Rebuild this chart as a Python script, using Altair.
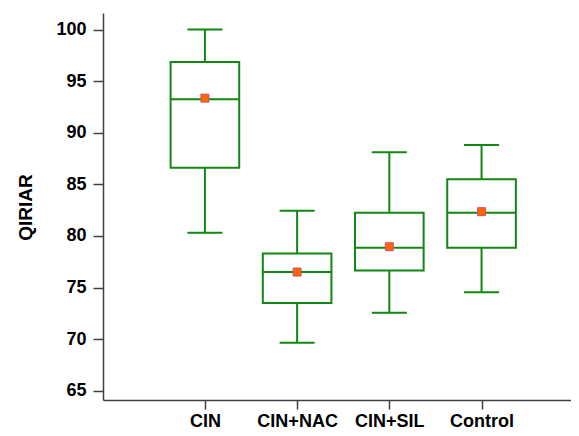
import json
import altair as alt
import pandas as pd

categories = ["CIN", "CIN+NAC", "CIN+SIL", "Control"]
lower = [80.3, 69.65, 72.55, 74.55]
q1 = [86.6, 73.5, 76.65, 78.85]
median = [93.25, 76.5, 78.85, 82.25]
q3 = [96.85, 78.3, 82.25, 85.5]
upper = [100.0, 82.45, 88.1, 88.8]
mean = [93.35, 76.5, 78.95, 82.35]

df = pd.DataFrame({
    "cat": categories,
    "pos": list(range(1, len(categories) + 1)),
    "lower": lower,
    "q1": q1,
    "median": median,
    "q3": q3,
    "upper": upper,
    "mean": mean,
})

GREEN = "#118811"
BOX_HALF = 0.372
CAP_HALF = 0.19

xscale = alt.Scale(domain=[-0.105, 4.97], nice=False, zero=False)
yscale = alt.Scale(domain=[64.1, 101.6], nice=False, zero=False)

label_expr = json.dumps(categories) + "[datum.value - 1]"

xaxis = alt.Axis(values=[1, 2, 3, 4], labelExpr=label_expr, title=None, grid=False,
                 tickSize=9, labelPadding=3, labelFlush=False, labelOverlap=False)
yaxis = alt.Axis(values=[65, 70, 75, 80, 85, 90, 95, 100], title="QIRIAR", grid=False,
                 tickSize=10, labelPadding=7, titleX=-72, titleY=194,
                 titleBaseline="alphabetic", titleAngle=270, titleAlign="center",
                 titleFontSize=19)

base = alt.Chart(df).transform_calculate(
    xl=f"datum.pos - {BOX_HALF}", xr=f"datum.pos + {BOX_HALF}",
    cl=f"datum.pos - {CAP_HALF}", cr=f"datum.pos + {CAP_HALF}",
)

def X(field):
    return alt.X(field, type="quantitative", scale=xscale, axis=xaxis)

def Y(field):
    return alt.Y(field, type="quantitative", scale=yscale, axis=yaxis)

whisk_lo = base.mark_rule(color=GREEN, strokeWidth=2).encode(
    x=X("pos"), y=Y("lower"), y2="q1:Q")
whisk_hi = base.mark_rule(color=GREEN, strokeWidth=2).encode(
    x=X("pos"), y=Y("q3"), y2="upper:Q")
cap_lo = base.mark_rule(color=GREEN, strokeWidth=2).encode(
    x=X("cl"), x2="cr:Q", y=Y("lower"))
cap_hi = base.mark_rule(color=GREEN, strokeWidth=2).encode(
    x=X("cl"), x2="cr:Q", y=Y("upper"))
box = base.mark_rect(fill="white", stroke=GREEN, strokeWidth=2).encode(
    x=X("xl"), x2="xr:Q", y=Y("q1"), y2="q3:Q")
med = base.mark_rule(color=GREEN, strokeWidth=2).encode(
    x=X("xl"), x2="xr:Q", y=Y("median"))
mn = base.mark_square(size=64, fill="#ff6600", stroke="#c8507a", strokeWidth=1, opacity=1).encode(
    x=X("pos"), y=Y("mean"))

chart = alt.layer(whisk_lo, whisk_hi, cap_lo, cap_hi, box, med, mn).properties(
    width=468, height=387,
    autosize=alt.AutoSizeParams(type="none"),
    padding={"left": 95, "top": 5, "right": 0, "bottom": 34},
).configure_view(stroke=None).configure_axis(
    domainColor="#404040", tickColor="#404040", domainWidth=1.5, tickWidth=1.5,
    labelFont="Liberation Sans", labelFontWeight="bold", labelFontSize=18, labelColor="#000000",
    titleFont="Liberation Sans", titleFontWeight="bold", titleColor="#000000",
)

chart.save("out.html", embed_options={"renderer": "svg", "actions": False})
